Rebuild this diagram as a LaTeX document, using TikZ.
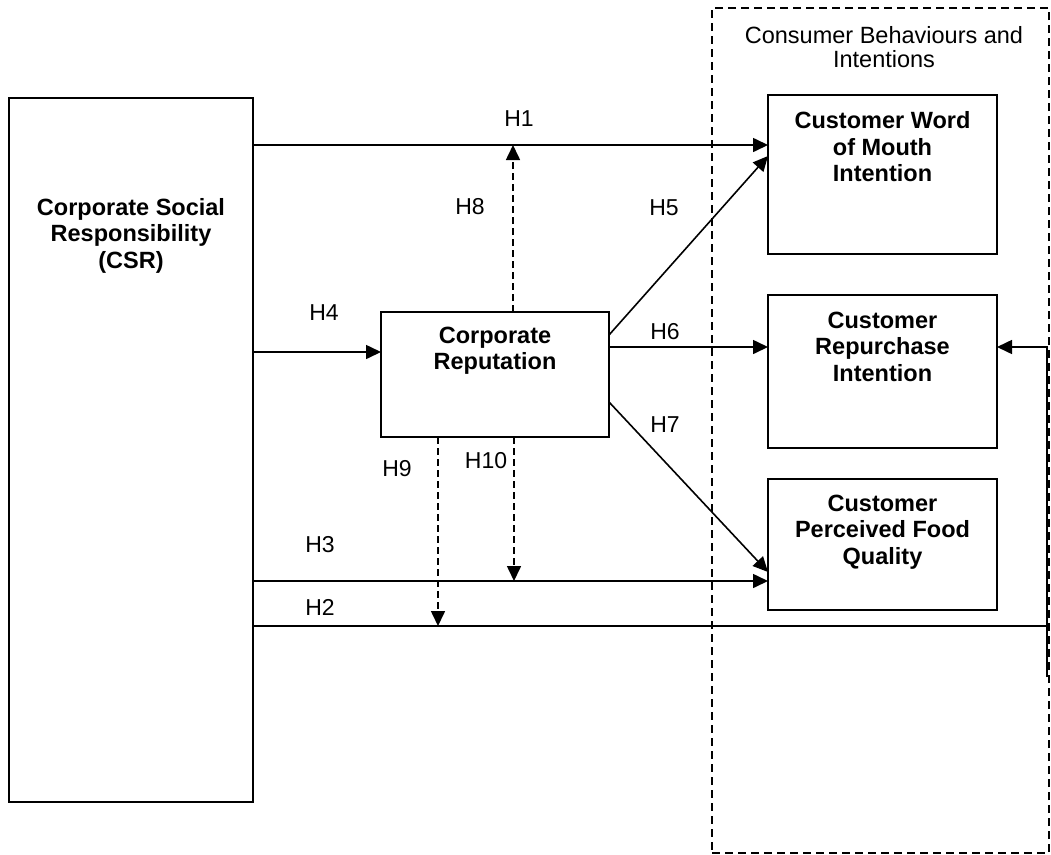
\documentclass[tikz,border=0pt]{standalone}
\usepackage{fontspec}
\setmainfont{Liberation Sans}
\usetikzlibrary{arrows.meta,calc}
\begin{document}
\begin{tikzpicture}[x=1pt,y=-1pt,
  box/.style={draw,line width=1.6pt,inner sep=0pt,outer sep=0pt,anchor=north west},
  grp/.style={draw,line width=1.4pt,dash pattern=on 8pt off 5pt,inner sep=0pt,outer sep=0pt,anchor=north west},
  btxt/.style={font=\fontsize{23.5}{26.5}\selectfont\bfseries,align=center,inner sep=0pt,anchor=north},
  ttl/.style={font=\fontsize{23.5}{24}\selectfont,align=center,inner sep=0pt,anchor=north},
  lbl/.style={font=\fontsize{23}{26}\selectfont,inner sep=0pt},
  arr/.style={line width=1.6pt,-{Triangle[length=15pt,width=14pt]}},
  dsh/.style={arr,dash pattern=on 7pt off 4pt},
  ln/.style={line width=1.6pt}
]
\useasboundingbox (0,0) rectangle (1051,854);
% group box
\node[grp,minimum width=337pt,minimum height=845pt] (grp) at (712,8) {};
\node[ttl] (grpt) at (884,26.5) {Consumer Behaviours and\\Intentions};
% boxes
\node[box,minimum width=244pt,minimum height=704pt] (csr) at (9,98) {};
\node[box,minimum width=229pt,minimum height=159pt] (wom) at (768,95) {};
\node[box,minimum width=229pt,minimum height=153pt] (rp) at (768,295) {};
\node[box,minimum width=229pt,minimum height=131pt] (fq) at (768,479) {};
\node[box,minimum width=228pt,minimum height=125pt] (rep) at (381,312) {};
% box texts
\node[btxt] (csrt) at ($(csr.north)+(0,100)$) {Corporate Social\\Responsibility\\(CSR)};
\node[btxt] (womt) at ($(wom.north)+(0,16.5)$) {Customer Word\\of Mouth\\Intention};
\node[btxt] (rpt) at ($(rp.north)+(0,16.5)$) {Customer\\Repurchase\\Intention};
\node[btxt] (fqt) at ($(fq.north)+(0,15.5)$) {Customer\\Perceived Food\\Quality};
\node[btxt] (rept) at ($(rep.north)+(0,14.5)$) {Corporate\\Reputation};
% reference coordinates
\coordinate (y1) at (0,145);
\coordinate (y5s) at (0,335);
\coordinate (y5e) at (0,156);
\coordinate (y4) at (0,352);
\coordinate (y6) at (0,347);
\coordinate (y7s) at (0,402);
\coordinate (y7e) at (0,572);
\coordinate (y3) at (0,581);
\coordinate (y2) at (0,626);
\coordinate (x8) at (513,0);
\coordinate (x9) at (438,0);
\coordinate (x10) at (514,0);
\coordinate (xr) at (1047,0);
\coordinate (c2b) at (1047,677);
% connectors
\draw[arr] (csr.east |- y1) -- (wom.west |- y1);
\draw[dsh] (rep.north -| x8) -- (x8 |- y1);
\draw[arr] (rep.east |- y5s) -- (wom.west |- y5e);
\draw[arr] (csr.east |- y4) -- (rep.west |- y4);
\draw[arr] (rep.east |- y6) -- (rp.west |- y6);
\draw[arr] (rep.east |- y7s) -- (fq.west |- y7e);
\draw[arr] (csr.east |- y3) -- (fq.west |- y3);
\draw[dsh] (rep.south -| x10) -- (x10 |- y3);
\draw[dsh] (rep.south -| x9) -- (x9 |- y2);
\draw[ln] (csr.east |- y2) -- (xr |- y2);
\draw[arr] (c2b) -- (xr |- y6) -- (rp.east |- y6);
% labels
\node[lbl] (h1) at (519,119) {H1};
\node[lbl] (h8) at (470,207) {H8};
\node[lbl] (h5) at (664,208) {H5};
\node[lbl] (h4) at (324,313) {H4};
\node[lbl] (h6) at (665,332) {H6};
\node[lbl] (h7) at (665,425) {H7};
\node[lbl] (h9) at (397,469) {H9};
\node[lbl] (h10) at (486,461) {H10};
\node[lbl] (h3) at (320,545) {H3};
\node[lbl] (h2) at (320,607) {H2};
\end{tikzpicture}
\end{document}
